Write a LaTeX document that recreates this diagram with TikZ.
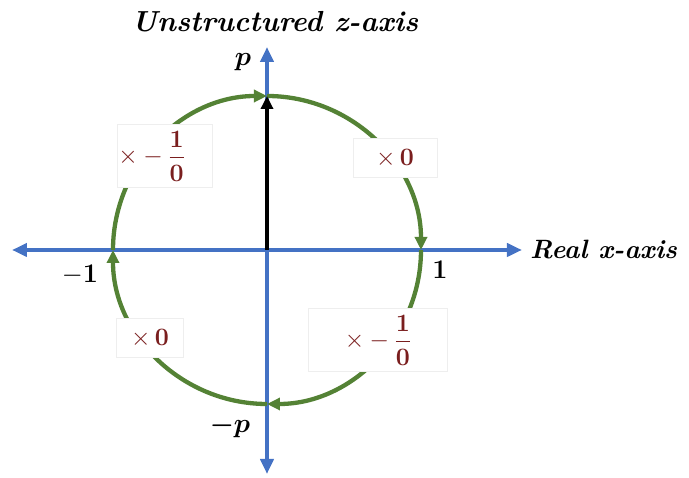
\RequirePackage{fix-cm}
\documentclass[tikz,border=0pt]{standalone}
\usepackage{amsmath,amssymb}
\usepackage{tikz}
\usetikzlibrary{arrows.meta,positioning}
\definecolor{axisblue}{HTML}{4472C4}
\definecolor{loopgreen}{HTML}{548235}
\definecolor{factor}{HTML}{7A1E1E}
\definecolor{boxline}{HTML}{EEEEEE}

\begin{document}
\begin{tikzpicture}[x=1pt,y=1pt,
  ax/.style={draw=axisblue,line width=3.8pt,
    {Triangle[length=15pt,width=13pt]}-{Triangle[length=15pt,width=13pt]}},
  rot/.style={draw=loopgreen,line width=4.3pt,-{Triangle[length=13pt,width=12pt]}},
  vec/.style={draw=black,line width=4pt,-{Triangle[length=13pt,width=12pt]}},
  nm/.style={font=\fontsize{29}{34}\selectfont\bfseries\itshape},
  tk/.style={font=\fontsize{27}{32}\selectfont},
  fb/.style={draw=boxline,fill=white,inner sep=0pt,text=factor,
    font=\fontsize{25}{29}\selectfont}
]
\useasboundingbox (-267,-228) rectangle (422,250);
\coordinate (O) at (0,0);
\coordinate (xl) at (-255,0);
\coordinate (xr) at (255,0);
\coordinate (zt) at (0,203);
\coordinate (zb) at (0,-224);
\coordinate (top) at (90:154);
\coordinate (rgt) at (0:154);
\coordinate (bot) at (-90:154);
\coordinate (lft) at (180:154);
\draw[ax] (xl)--(xr);
\draw[ax] (zb)--(zt);
\draw[rot] (lft) arc[start angle=180,end angle=90,radius=154];
\draw[rot] (top) arc[start angle=90,end angle=0,radius=154];
\draw[rot] (rgt) arc[start angle=0,end angle=-90,radius=154];
\draw[rot] (bot) arc[start angle=-90,end angle=-180,radius=154];
\draw[vec] (O)--(top);
\node[fb,text width=93pt,inner xsep=1pt,align=left,minimum height=63pt]
  (mtl) at (-102,94) {$\times-\dfrac{\mathbf{1}}{\mathbf{0}}$};
\node[fb,minimum width=84pt,minimum height=39pt] (mtr) at (128,92)
  {$\times\,\mathbf{0}$};
\node[fb,minimum width=67pt,minimum height=39pt] (mbl) at (-117,-88)
  {$\times\,\mathbf{0}$};
\node[fb,minimum width=139pt,minimum height=63pt] (mbr) at (111,-90)
  {$\times-\dfrac{\mathbf{1}}{\mathbf{0}}$};
\node[nm] (zname) at (8,228) {Unstructured z-axis};
\node[nm,anchor=west,inner sep=0pt,font=\fontsize{26.5}{30}\selectfont\bfseries\itshape]
  (xname) at (263,0) {Real x-axis};
\node[tk] (pp) at (-24,188) {$\boldsymbol{p}$};
\node[tk] (pm) at (-37,-177) {$\boldsymbol{-p}$};
\node[tk] (one) at (173,-20) {$\mathbf{1}$};
\node[tk] (mone) at (-187,-25) {$\mathbf{-1}$};
\end{tikzpicture}
\end{document}
